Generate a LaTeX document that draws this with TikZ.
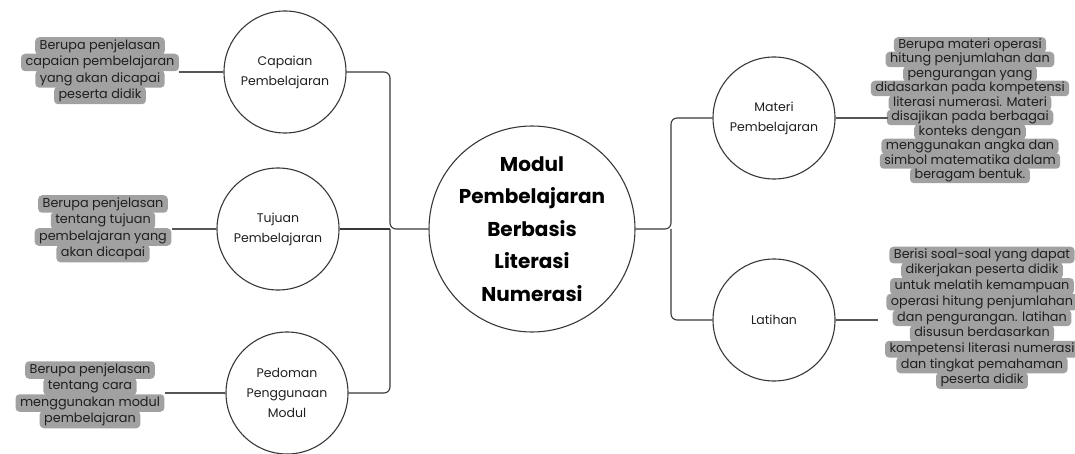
\documentclass[tikz,border=0pt]{standalone}
\usepackage{fontspec}
\setmainfont{Poppins}
\definecolor{hlgray}{HTML}{A1A1A1}
\definecolor{inkgray}{HTML}{1F1F1F}
\definecolor{wiregray}{HTML}{383838}
\tikzset{
    topic/.style={
        circle, draw=wiregray, line width=1.1pt, minimum size=#1, inner sep=0pt,
        align=center, text=inkgray, font=\fontsize{12.5}{20}\selectfont
    },
    topic/.default=122pt,
    hl/.style={
        fill=hlgray, rounded corners=4pt, inner xsep=4.5pt, inner ysep=0pt,
        minimum height=#1, text height=9.5pt, text depth=3pt, text=inkgray,
        font=\fontsize{12.8}{14}\selectfont
    },
    wire/.style={draw=wiregray, line width=1.1pt, rounded corners=6pt}
}
\newcommand{\hlbox}[5] {
	\foreach \rowtext [count=\i] in {#5} {
		\node[hl={#4pt+1pt}] (#1-\i) at (#2,#3+\i*#4-#4) {\rowtext};
	}
}

\begin{document}
\begin{tikzpicture}[x=1pt,y=-1pt]
		\useasboundingbox (0,0) rectangle (1075,454);

		% Main topic
		\node[topic=194pt, font=\fontsize{20}{32.5}\bfseries\selectfont, text=black]
			(modul) at (532,229) {Modul\\Pembelajaran\\Berbasis\\Literasi\\Numerasi};

		% Left side
		\node[topic] (capaian) at (285,72) {Capaian\\Pembelajaran};
		\node[topic] (tujuan) at (278,229) {Tujuan\\Pembelajaran};
		\node[topic] (pedoman) at (287,393) {Pedoman\\Penggunaan\\Modul};
		\coordinate (jl) at (390,229);

		\draw[wire] (capaian.east) -| (jl) -- (modul.west);
		\draw[wire] (pedoman.east) -| (jl);
		\draw[wire] (tujuan.east) -- (jl);

		\hlbox{capbox}{100}{46}{16.5}{Berupa penjelasan,capaian pembelajaran,yang akan dicapai,peserta didik}
		\hlbox{tujbox}{103}{204}{16.5}{Berupa penjelasan,tentang tujuan,pembelajaran yang,akan dicapai}
		\hlbox{pedbox}{90}{370}{16.5}{Berupa penjelasan,tentang cara,menggunakan modul,pembelajaran}

		\draw[wire, draw=wiregray!85] (capaian.west) -- (capaian.west -| capbox-2.east);
		\draw[wire, draw=wiregray!85] (tujuan.west) -- (tujuan.west -| tujbox-3.east);
		\draw[wire, draw=wiregray!85] (pedoman.west) -- (pedoman.west -| pedbox-3.east);

		% Right side
		\node[topic] (materi) at (774,118) {Materi\\Pembelajaran};
		\node[topic] (latihan) at (774,320) {Latihan};
		\coordinate (jr) at (671,229);

		\draw[wire] (modul.east) -- (jr) |- (materi.west);
		\draw[wire] (jr) |- (latihan.west);

		\hlbox{matbox}{970}{45}{14.5}{Berupa materi  operasi,hitung penjumlahan dan,pengurangan yang,didasarkan pada kompetensi,literasi numerasi.  Materi,disajikan pada berbagai,konteks dengan,menggunakan angka dan,simbol matematika dalam,beragam bentuk.}
		\hlbox{latbox}{982}{255}{15.7}{Berisi soal-soal yang  dapat,dikerjakan peserta didik,untuk melatih kemampuan,operasi hitung penjumlahan,dan pengurangan. latihan,disusun berdasarkan,kompetensi literasi numerasi,dan tingkat pemahaman,peserta didik}

		\draw[wire, draw=wiregray!85] (materi.east) -- (materi.east -| matbox-5.west);
		\draw[wire, draw=wiregray!85] (latihan.east) -- ([xshift=-8pt]latihan.east -| latbox-4.west);

	\end{tikzpicture}
\end{document}
